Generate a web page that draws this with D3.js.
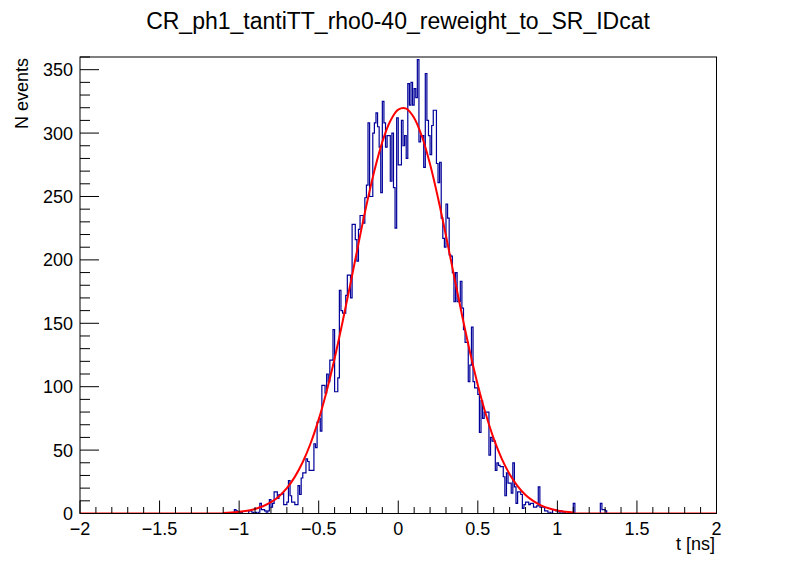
<!DOCTYPE html>
<html lang="en">

<head>
	<meta charset="utf-8">
	<title>CR_ph1_tantiTT_rho0-40_reweight_to_SR_IDcat</title>
<style>
	body,
	html {
	  margin: 0;
	  padding: 0;
	  background: #fff;
	  font-family: "Liberation Sans", Arial, Helvetica, sans-serif;
	}

	svg text {
	  fill: #000;
	}
</style>
</head>

<body>
	<svg></svg>
	<script src="https://cdnjs.cloudflare.com/ajax/libs/d3/7.8.5/d3.min.js"></script>

	<script>

		// histogram: 400 bins of 0.01 ns from -2 to 2, counts below start at t = -1.04
		let binWidth = 0.01;
		let firstEdge = -1.04;
		let counts = [
			0, 3, 2, 0, 0, 1, 0, 0, 0, 0,
			2, 2, 1, 0, 1, 0, 1, 8, 3, 3,
			2, 1, 2, 11, 5, 8, 17, 17, 12, 15,
			15, 16, 7, 7, 9, 26, 14, 9, 9, 7,
			7, 22, 15, 28, 32, 32, 43, 41, 34, 34,
			34, 55, 52, 72, 75, 65, 101, 101, 95, 110,
			104, 121, 121, 145, 96, 96, 107, 176, 160, 158,
			158, 172, 188, 188, 170, 228, 228, 216, 199, 224,
			235, 235, 229, 249, 259, 308, 250, 250, 300, 308,
			316, 305, 289, 253, 325, 308, 289, 298, 298, 262,
			300, 257, 225, 312, 275, 275, 310, 290, 298, 280,
			339, 322, 340, 322, 335, 328, 358, 293, 298, 298,
			273, 347, 310, 298, 283, 306, 318, 318, 276, 261,
			277, 233, 217, 210, 244, 233, 204, 203, 190, 167,
			190, 167, 167, 183, 162, 145, 135, 135, 104, 117,
			147, 104, 99, 99, 94, 64, 89, 75, 80, 80,
			80, 46, 60, 57, 57, 34, 40, 38, 37, 37,
			29, 14, 32, 24, 24, 16, 40, 21, 8, 17,
			17, 15, 4, 7, 9, 9, 7, 8, 8, 5,
			5, 6, 21, 5, 5, 5, 2, 2, 1, 1,
			0, 3, 3, 2, 2, 1, 2, 1, 1, 0,
			0, 0, 0, 0, 8, 0, 0, 0, 0, 0,
			0, 0, 0, 0, 0, 0, 0, 0, 0, 0,
			0, 8, 3, 3, 2
		];

		// gaussian fit curve, every 0.05 ns (zero outside -1.1 .. 1.1)
		let fitT = [
			-1.10, -1.05, -1.00, -0.95, -0.90, -0.85, -0.80, -0.75, -0.70, -0.65,
			-0.60, -0.55, -0.50, -0.45, -0.40, -0.35, -0.30, -0.25, -0.20, -0.15,
			-0.10, -0.05, 0.00, 0.05, 0.10, 0.15, 0.20, 0.25, 0.30, 0.35,
			0.40, 0.45, 0.50, 0.55, 0.60, 0.65, 0.70, 0.75, 0.80, 0.85,
			0.90, 0.95, 1.00, 1.05, 1.10
		];
		let fitV = [
			0.4, 0.7, 1.3, 2.2, 3.6, 5.7, 8.9, 13.5, 20.0, 28.9,
			40.6, 55.6, 74.2, 96.5, 122.3, 151.0, 181.5, 212.8, 243.0, 270.3,
			293.1, 309.5, 318.5, 319.3, 311.9, 296.9, 275.4, 248.8, 219.0, 187.8,
			156.9, 127.8, 101.4, 78.4, 59.0, 43.3, 31.0, 21.6, 14.6, 9.7,
			6.2, 3.9, 2.4, 1.4, 0.8
		];

		let xTicks = [-2, -1.5, -1, -0.5, 0, 0.5, 1, 1.5, 2];
		let yTicks = [0, 50, 100, 150, 200, 250, 300, 350];

		let titleText = "CR_ph1_tantiTT_rho0-40_reweight_to_SR_IDcat";
		let xTitle = "t [ns]";
		let yTitle = "N events";

		let w = 796, h = 572;
		let frame = { left: 80, right: 716.5, top: 57, bottom: 513.5 };

		let svg = d3.select("svg")
			.attr("width", w)
			.attr("height", h);

		let x = d3.scaleLinear().domain([-2, 2]).range([frame.left, frame.right]);
		let y = d3.scaleLinear().domain([0, 360]).range([frame.bottom, frame.top]);

		// full list of bins from -2 to 2
		let nBins = Math.round(4 / binWidth);
		let offset = Math.round((firstEdge + 2) / binWidth);
		let bins = d3.range(nBins).map(i => {
			let j = i - offset;
			return { t: -2 + i * binWidth, v: (j >= 0 && j < counts.length) ? counts[j] : 0 };
		});
		bins.push({ t: 2, v: bins[bins.length - 1].v });

		svg.append("clipPath")
			.attr("id", "clip")
			.append("rect")
			.attr("x", frame.left)
			.attr("y", frame.top)
			.attr("width", frame.right - frame.left)
			.attr("height", frame.bottom - frame.top);

		let plot = svg.append("g").attr("clip-path", "url(#clip)");

		// histogram outline
		plot.append("path")
			.datum(bins)
			.attr("fill", "none")
			.attr("stroke", "#000099")
			.attr("stroke-width", 1.2)
			.attr("d", d3.line()
				.x(d => x(d.t))
				.y(d => y(d.v))
				.curve(d3.curveStepAfter));

		// fit: flat parts and the curve
		let fitPts = fitT.map((t, i) => ({ t: t, v: fitV[i] }));
		let redLine = d3.line().x(d => x(d.t)).y(d => y(d.v));

		plot.append("path")
			.datum([{ t: -2, v: 0 }, { t: fitT[0], v: 0 }, fitPts[0]])
			.attr("fill", "none")
			.attr("stroke", "#ff0000")
			.attr("stroke-width", 2)
			.attr("d", redLine);

		plot.append("path")
			.datum([fitPts[fitPts.length - 1], { t: fitT[fitT.length - 1], v: 0 }, { t: 2, v: 0 }])
			.attr("fill", "none")
			.attr("stroke", "#ff0000")
			.attr("stroke-width", 2)
			.attr("d", redLine);

		plot.append("path")
			.datum(fitPts)
			.attr("fill", "none")
			.attr("stroke", "#ff0000")
			.attr("stroke-width", 2)
			.attr("d", redLine.curve(d3.curveCatmullRom));

		// frame
		svg.append("rect")
			.attr("x", frame.left)
			.attr("y", frame.top)
			.attr("width", frame.right - frame.left)
			.attr("height", frame.bottom - frame.top)
			.attr("fill", "none")
			.attr("stroke", "#000")
			.attr("stroke-width", 1);

		// x axis ticks (inside the frame) and labels
		let xMinor = d3.range(-2, 2.0001, 0.1).map(v => Math.round(v * 10) / 10);
		let xAx = svg.append("g").attr("id", "xaxis");
		xAx.selectAll("line")
			.data(xMinor)
			.enter()
			.append("line")
			.attr("x1", d => x(d))
			.attr("x2", d => x(d))
			.attr("y1", frame.bottom)
			.attr("y2", d => frame.bottom - (xTicks.includes(d) ? 13 : 6.5))
			.attr("stroke", "#000")
			.attr("stroke-width", 1);
		xAx.selectAll("text")
			.data(xTicks)
			.enter()
			.append("text")
			.attr("x", d => x(d))
			.attr("y", 535)
			.attr("text-anchor", "middle")
			.style("font-size", "18px")
			.text(d => d < 0 ? "\u2212" + Math.abs(d) : d);

		// y axis ticks and labels
		let yMinor = d3.range(0, 361, 10);
		let yAx = svg.append("g").attr("id", "yaxis");
		yAx.selectAll("line")
			.data(yMinor)
			.enter()
			.append("line")
			.attr("x1", frame.left)
			.attr("x2", d => frame.left + (d % 50 == 0 ? 19 : 10))
			.attr("y1", d => y(d))
			.attr("y2", d => y(d))
			.attr("stroke", "#000")
			.attr("stroke-width", 1);
		yAx.selectAll("text")
			.data(yTicks)
			.enter()
			.append("text")
			.attr("x", 73)
			.attr("y", d => y(d) + 6.5)
			.attr("text-anchor", "end")
			.style("font-size", "18px")
			.text(d => d);

		// titles
		svg.append("text")
			.attr("x", 398)
			.attr("y", 29)
			.attr("text-anchor", "middle")
			.style("font-size", "23px")
			.text(titleText);

		svg.append("text")
			.attr("x", 715)
			.attr("y", 550)
			.attr("text-anchor", "end")
			.style("font-size", "18px")
			.text(xTitle);

		svg.append("text")
			.attr("transform", "translate(28,58) rotate(-90)")
			.attr("text-anchor", "end")
			.style("font-size", "18px")
			.text(yTitle);

	</script>
</body>

</html>
